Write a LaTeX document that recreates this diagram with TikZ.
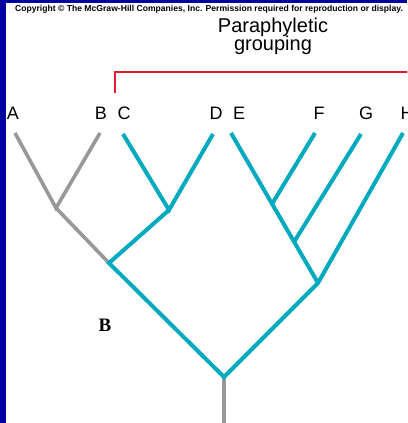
\documentclass[tikz,border=0pt]{standalone}
\usepackage{fontspec}
\setmainfont{Liberation Sans}
\newfontfamily\timesbold{Liberation Serif}
\usepackage{tikz}
\usepackage{xcolor}

\definecolor{frameblue}{RGB}{0,0,158}
\definecolor{cladeteal}{RGB}{0,170,190}
\definecolor{stemgray}{RGB}{152,152,152}
\definecolor{groupred}{RGB}{222,30,48}

\begin{document}
\begin{tikzpicture}[x=1pt,y=-1pt,
  tiplabel/.style={anchor=base,inner sep=0pt,font=\fontsize{18}{18}\selectfont},
  grayedge/.style={draw=stemgray,line width=3.6pt},
  tealedge/.style={draw=cladeteal,line width=4pt}]
  \useasboundingbox (0,0) rectangle (407,423);
  \clip (0,0) rectangle (407,423);
  % frame
  \fill[frameblue] (0,0) rectangle (407,423);
  \fill[white] (6,3) rectangle (407,423);

  \node[inner sep=0pt,font=\bfseries\fontsize{8.6}{9}\selectfont] (copyright) at (209,9)
    {Copyright © The McGraw-Hill Companies, Inc. Permission required for reproduction or display.};
  \node[align=center,inner sep=0pt,font=\fontsize{20}{19}\selectfont,anchor=base] (grouping) at (273,50)
    {Paraphyletic\\[-1.5pt]grouping};

  % tip labels
  \node[tiplabel] (A) at (13,119) {A};
  \node[tiplabel] (B) at (101,119) {B};
  \node[tiplabel] (C) at (124,119) {C};
  \node[tiplabel] (D) at (216,119) {D};
  \node[tiplabel] (E) at (239,119) {E};
  \node[tiplabel] (F) at (319,119) {F};
  \node[tiplabel] (G) at (366,119) {G};
  \node[tiplabel] (H) at (407,119) {H};

  % branch ends and forks
  \coordinate (tA) at (15,133);
  \coordinate (tB) at (100,133);
  \coordinate (tC) at (123,134);
  \coordinate (tD) at (213,134);
  \coordinate (tE) at (231,133);
  \coordinate (tF) at (315,133);
  \coordinate (tG) at (361,134);
  \coordinate (tH) at (403,133);
  \coordinate (nAB) at (56,208);
  \coordinate (nCD) at (169,210);
  \coordinate (nABCD) at (109,263);
  \coordinate (nEF) at (272,204);
  \coordinate (nEFG) at (294,242);
  \coordinate (nEFGH) at (318,283);
  \coordinate (root) at (224,377);
  \coordinate (base) at (224,430);

  % bracket
  \coordinate (bk) at (115,93);
  \draw[groupred,line width=2pt] (bk) -- (115,72) -- (420,72);

  \draw[grayedge] (tA) -- (nAB) -- (tB);
  \draw[grayedge] (nAB) -- (nABCD);
  \draw[grayedge] (root) -- (base);
  \draw[tealedge] (tC) -- (nCD) -- (tD);
  \draw[tealedge,line join=miter] (nCD) -- (nABCD) -- (root) -- (nEFGH) -- (tH);
  \draw[tealedge] (tE) -- (nEFGH);
  \draw[tealedge] (tF) -- (nEF);
  \draw[tealedge] (tG) -- (nEFG);

  \node[font=\timesbold\bfseries\fontsize{19}{19}\selectfont] (Blabel) at (105,325) {B};
\end{tikzpicture}
\end{document}
